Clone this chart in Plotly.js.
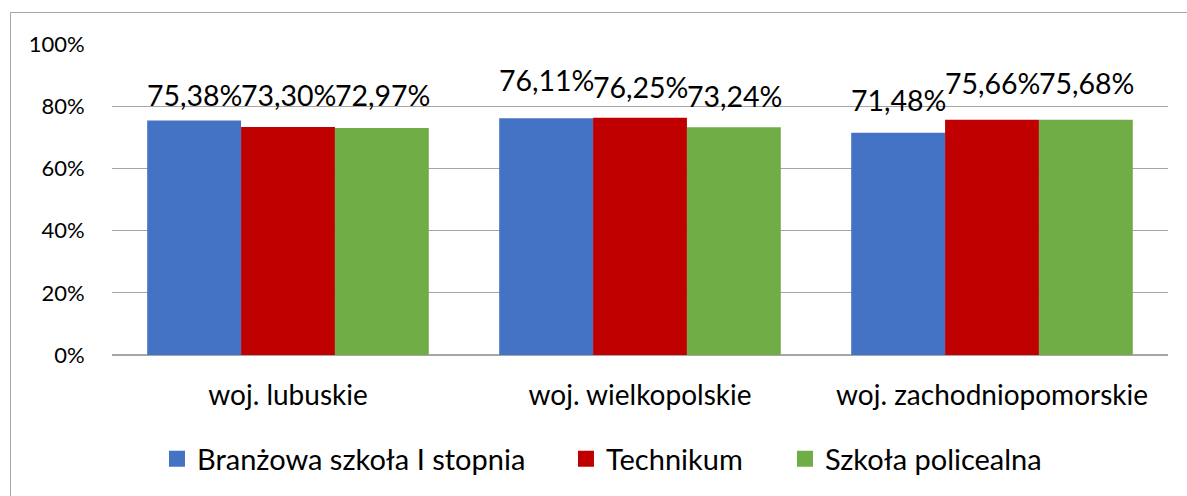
<!DOCTYPE html>
<html>
<head>
<meta charset="utf-8">
<script src="https://cdn.plot.ly/plotly-3.0.1.min.js"></script>
<style>
html,body{margin:0;padding:0;background:#fff;}
#wrap{position:relative;width:1187px;height:496px;overflow:hidden;}
#frame{position:absolute;left:10px;top:12px;width:1200px;height:500px;border-left:1.5px solid #a6a6a6;border-top:1.5px solid #a6a6a6;pointer-events:none;}
#chart{position:absolute;left:0;top:0;width:1187px;height:496px;}
</style>
</head>
<body>
<div id="wrap"><div id="chart"></div><div id="frame"></div></div>
<script>
const categories = ["woj. lubuskie", "woj. wielkopolskie", "woj. zachodniopomorskie"];
const seriesNames = ["Branżowa szkoła I stopnia", "Technikum", "Szkoła policealna"];
const branzowa = [75.38, 76.11, 71.48];
const technikum = [73.30, 76.25, 75.66];
const policealna = [72.97, 73.24, 75.68];
const yTicks = [0, 20, 40, 60, 80, 100];
const yTickText = ["0%", "20%", "40%", "60%", "80%", "100%"];

const colors = ["#4472C4", "#C00000", "#70AD47"];
const series = [branzowa, technikum, policealna];
// style: label vertical offsets (px) per series per category, and horizontal offsets per series
const labelYShift = [[26, 38, 33], [32, 31, 37], [33, 31, 37]];
const seriesXShift = [-94, 0, 94];
// style: legend positions (paper x) for each series
const legendX = [0.0426, 0.4299, 0.6373];
const legendIds = ['legend', 'legend2', 'legend3'];

function fmt(v) { return v.toFixed(2).replace('.', ',') + '%'; }

const font = "Lato, 'Open Sans', sans-serif";
const traces = [];
series.forEach((vals, i) => {
  traces.push({
    type: 'bar', x: categories, y: vals, name: seriesNames[i],
    marker: {color: colors[i]}, showlegend: false, hoverinfo: 'skip'
  });
});
series.forEach((vals, i) => {
  traces.push({
    type: 'scatter', mode: 'markers', x: [null], y: [null], name: seriesNames[i],
    legend: legendIds[i],
    marker: {color: colors[i], symbol: 'square', size: 18}, showlegend: true, hoverinfo: 'skip'
  });
});

const annotations = [];
series.forEach((vals, i) => {
  vals.forEach((v, j) => {
    annotations.push({
      x: categories[j], y: v, xref: 'x', yref: 'y', text: fmt(v),
      showarrow: false, xshift: seriesXShift[i], yshift: labelYShift[i][j],
      yanchor: 'middle', xanchor: 'center',
      font: {family: font, size: 28.5, color: '#000'}
    });
  });
});

const layout = {
  width: 1187, height: 496,
  margin: {l: 112, r: 19, t: 44, b: 141},
  paper_bgcolor: 'rgba(0,0,0,0)', plot_bgcolor: '#fff',
  barmode: 'group', bargap: 0.2, bargroupgap: 0,
  font: {family: font, color: '#000'},
  xaxis: {
    type: 'category', showgrid: false, zeroline: false,
    showline: false, ticks: 'outside', ticklen: 15, tickcolor: 'rgba(0,0,0,0)',
    tickfont: {family: font, size: 28, color: '#000'}
  },
  yaxis: {
    range: [0, 100], tickvals: yTicks, ticktext: yTickText,
    showgrid: true, gridcolor: '#a6a6a6', gridwidth: 1.3,
    zeroline: true, zerolinecolor: '#a6a6a6', zerolinewidth: 1.5,
    showline: false, ticks: 'outside', ticklen: 22, tickcolor: 'rgba(0,0,0,0)',
    tickfont: {family: font, size: 22, color: '#000'}
  },
  annotations: annotations
};
legendIds.forEach((id, i) => {
  layout[id] = {
    orientation: 'h', x: legendX[i], xanchor: 'left', y: -0.334, yanchor: 'middle',
    font: {family: font, size: 29, color: '#000'}, itemsizing: 'trace',
    bgcolor: 'rgba(0,0,0,0)'
  };
});

Plotly.newPlot('chart', traces, layout, {displayModeBar: false, staticPlot: true});
</script>
</body>
</html>
